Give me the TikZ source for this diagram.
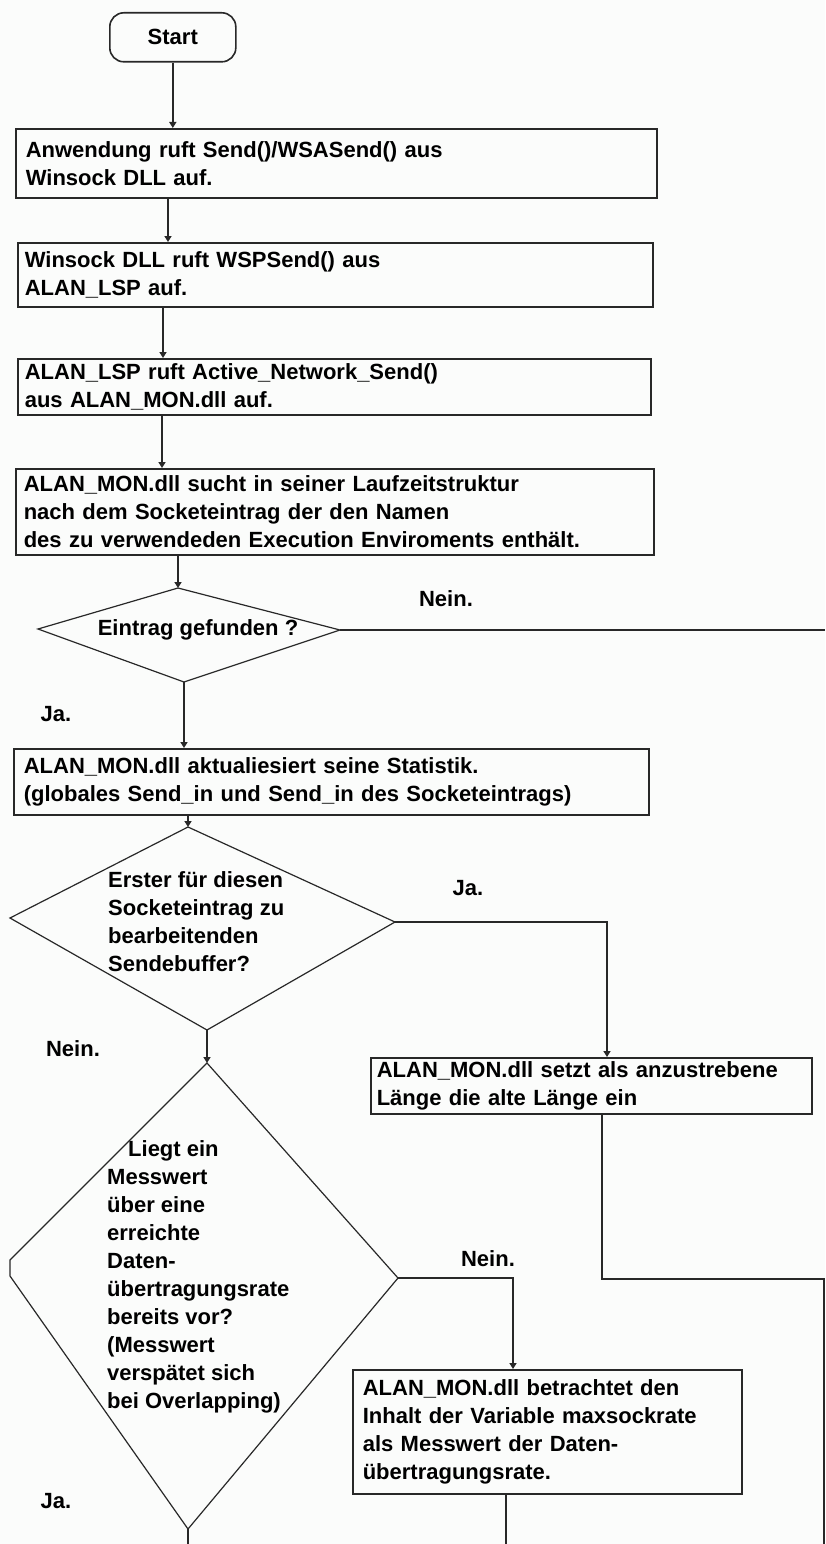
\documentclass[tikz,border=0pt]{standalone}
\usepackage{fontspec}
\setmainfont{Liberation Sans}
\usetikzlibrary{arrows.meta}
\definecolor{paper}{RGB}{251,252,251}
\definecolor{ink}{RGB}{40,40,40}

\begin{document}
\begin{tikzpicture}[x=1pt,y=-1pt,
  txt/.style={font=\bfseries\fontsize{22}{28}\selectfont, text=black},
  procbox/.style={txt, draw=ink, line width=1.6pt, rectangle, anchor=north west,
                  align=left, inner ysep=0pt},
  termbox/.style={txt, draw=ink, line width=1.6pt, rounded corners=14pt, anchor=north west,
                  minimum width=126pt, minimum height=49pt, inner sep=0pt},
  decision/.style={draw=ink, line width=1.2pt, line join=miter},
  dtext/.style={txt, anchor=north west, align=left, inner sep=0pt},
  lbl/.style={txt, anchor=base, inner sep=0pt},
  flow/.style={draw=ink, line width=1.5pt},
  arr/.style={flow, -{Triangle[length=6pt,width=7pt]}}
]
\fill[paper] (0,0) rectangle (825,1544);
\useasboundingbox (0,0) rectangle (825,1544);

% terminal and process steps
\node[termbox] (start) at (109,12) {Start};
\node[procbox, minimum width=641pt, minimum height=69pt, inner xsep=10pt, text width=621pt]
  (b1) at (15,128) {Anwendung ruft Send()/WSASend() aus\\Winsock DLL auf.};
\node[procbox, minimum width=635pt, minimum height=64pt, inner xsep=7pt, text width=621pt]
  (b2) at (17,242) {Winsock DLL ruft WSPSend() aus\\ALAN\_LSP auf.};
\node[procbox, minimum width=633pt, minimum height=56pt, inner xsep=7pt, text width=619pt]
  (b3) at (17,358) {ALAN\_LSP ruft Active\_Network\_Send()\\aus ALAN\_MON.dll auf.};
\node[procbox, minimum width=638pt, minimum height=86pt, inner xsep=8pt, text width=622pt]
  (b4) at (15,468) {ALAN\_MON.dll sucht in seiner Laufzeitstruktur\\nach dem Socketeintrag der den Namen\\des zu verwendeden Execution Enviroments enthält.};
\node[procbox, minimum width=635pt, minimum height=66pt, inner xsep=10pt, text width=615pt]
  (b5) at (13,748) {ALAN\_MON.dll aktualiesiert seine Statistik.\\(globales Send\_in und Send\_in des Socketeintrags)};
\node[procbox, minimum width=441pt, minimum height=56pt, inner xsep=6pt, text width=429pt]
  (b6) at (370,1057) {ALAN\_MON.dll setzt als anzustrebene\\Länge die alte Länge ein};
\node[procbox, minimum width=389pt, minimum height=124pt, inner xsep=10pt, text width=369pt]
  (b7) at (352,1369) {ALAN\_MON.dll betrachtet den\\Inhalt der Variable maxsockrate\\als Messwert der Daten-\\übertragungsrate.};

% decision outlines
\coordinate (d1t) at (178,588);  \coordinate (d1r) at (340,630);
\coordinate (d1b) at (184,682);  \coordinate (d1l) at (38,629);
\coordinate (d2t) at (188,827);  \coordinate (d2r) at (395,922);
\coordinate (d2b) at (207,1030); \coordinate (d2l) at (10,918);
\coordinate (d3t) at (207,1063); \coordinate (d3r) at (398,1278);
\coordinate (d3b) at (188,1529); \coordinate (d3la) at (10,1276);
\coordinate (d3lb) at (10,1260);
\draw[decision] (d1t) -- (d1r) -- (d1b) -- (d1l) -- cycle;
\draw[decision] (d2t) -- (d2r) -- (d2b) -- (d2l) -- cycle;
\draw[decision] (d3t) -- (d3r) -- (d3b) -- (d3la) -- (d3lb) -- cycle;

% decision texts
\node[lbl] (q1) at (198,635) {Eintrag gefunden ?};
\node[dtext] (q2) at (108,867.4) {\strut Erster für diesen\\Socketeintrag zu\\bearbeitenden\\Sendebuffer?};
\node[dtext] (q3) at (107,1136.4) {\strut\hspace*{21pt}Liegt ein\\Messwert\\über eine\\erreichte\\Daten-\\übertragungsrate\\bereits vor?\\(Messwert\\verspätet sich\\bei Overlapping)};

% branch labels
\node[lbl] (l1n) at (446,606) {Nein.};
\node[lbl] (l1j) at (56,721) {Ja.};
\node[lbl] (l2j) at (468,895) {Ja.};
\node[lbl] (l2n) at (73,1056) {Nein.};
\node[lbl] (l3n) at (488,1266) {Nein.};
\node[lbl] (l3j) at (56,1508) {Ja.};

% connector lanes and loose ends
\coordinate (k12) at (168,0);
\coordinate (k23) at (163,0);
\coordinate (k34) at (162,0);
\coordinate (k6)  at (607,0);
\coordinate (k6o) at (602,0);
\coordinate (k7)  at (513,0);
\coordinate (e1)  at (825,630);
\coordinate (e2)  at (824,1279);
\coordinate (e2x) at (824,1544);
\coordinate (e3)  at (506,1544);
\coordinate (e4)  at (188,1544);

% connectors
\draw[arr] (start.south) -- (start.south |- b1.north);
\draw[arr] (b1.south -| k12) -- (b2.north -| k12);
\draw[arr] (b2.south -| k23) -- (b3.north -| k23);
\draw[arr] (b3.south -| k34) -- (b4.north -| k34);
\draw[arr] (b4.south -| d1t) -- (d1t);
\draw[flow] (d1r) -- (e1);
\draw[arr] (d1b) -- (d1b |- b5.north);
\draw[arr] (b5.south -| d2t) -- (d2t);
\draw[arr] (d2r) -| (b6.north -| k6);
\draw[flow] (b6.south -| k6o) |- (e2) -- (e2x);
\draw[arr] (d2b) -- (d3t);
\draw[arr] (d3r) -| (b7.north -| k7);
\draw[flow] (b7.south -| e3) -- (e3);
\draw[flow] (d3b) -- (e4);
\end{tikzpicture}
\end{document}
